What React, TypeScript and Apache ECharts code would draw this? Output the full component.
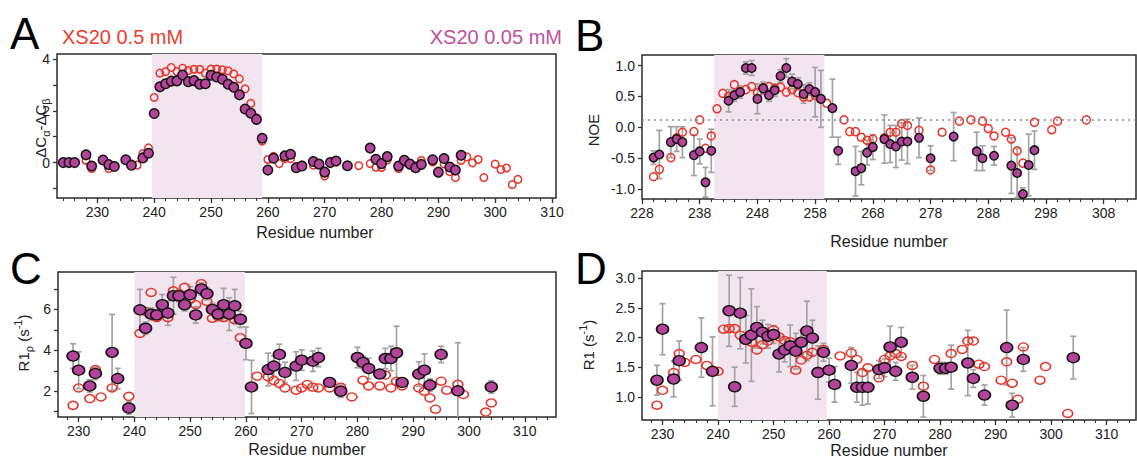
import React, { useEffect, useRef } from 'react';
import * as echarts from 'echarts';

// ---------- Panel A: ΔCα-ΔCβ ----------
const A_FILL_RES = [224,225,226,228,229,231,232,233,235,236,238,239,240,241,242,243,244,245,246,247,248,249,250,251,252,253,254,255,256,257,258,259,260,261,263,264,265,266,268,269,270,271,272,274,278,279,280,281,283,284,285,286,287,289,290,291,292,293,294];
const A_FILL_VAL = [0,0,0,0.3,-0.13,0.1,-0.08,-0.15,0.11,-0.1,0.18,0.36,1.9,2.93,3.05,3.15,3.16,3.39,3.13,3.17,3.03,3.05,3.38,3.31,3.22,3.03,2.91,2.62,2.07,1.91,1.67,0.94,-0.29,0.17,0.26,0.32,-0.2,-0.13,0.04,-0.06,-0.37,0,0.06,-0.12,0.56,0.13,-0.04,0.23,-0.13,0.09,-0.06,-0.2,-0.07,0.11,-0.37,0.16,-0.17,-0.29,0.28];
const A_RED_RES = [224,225,226,228,229,231,232,233,237,238,239,240,241,242,243,244,245,246,247,248,249,250,251,252,253,254,255,256,257,258,259,260,261,262,263,264,265,266,268,269,270,271,272,274,276,278,279,280,281,283,284,285,286,287,289,290,291,292,293,294,295,296,297,298,300,301,302,303,304];
const A_RED_VAL = [0,0,0,0.09,-0.23,0.08,-0.23,-0.15,-0.1,0.35,0.57,2.52,3.46,3.52,3.68,3.52,3.65,3.56,3.61,3.61,3.46,3.62,3.62,3.59,3.55,3.43,3.24,2.85,2.29,1.73,0.83,0.12,0.24,-0.04,0.15,0.15,-0.15,-0.1,-0.1,-0.05,-0.52,0,0.02,-0.12,-0.12,-0.04,-0.18,-0.19,0.1,-0.23,0.02,-0.03,-0.12,0.08,0.02,-0.4,-0.05,-0.35,-0.58,0.08,0.22,-0.01,0.12,-0.58,-0.06,-0.27,-0.21,-0.85,-0.65];

// ---------- Panel B: NOE ----------
const B_FILL_RES = [230,231,233,234,235,237,238,239,240,243,244,245,246,247,248,249,250,251,252,253,254,255,256,257,258,259,261,262,265,266,267,268,270,271,272,273,274,276,278,282,286,287,289,292,293,294,295,296];
const B_FILL_VAL = [-0.49,-0.44,-0.24,-0.19,-0.24,-0.45,-0.39,-0.89,-0.38,0.43,0.52,0.57,0.96,0.96,0.46,0.63,0.52,0.6,0.83,0.96,0.74,0.7,0.54,0.62,0.57,0.46,0.31,-0.38,-0.71,-0.66,-0.41,-0.32,-0.19,-0.27,-0.31,-0.23,-0.23,-0.17,-0.5,-0.15,-0.39,-0.5,-0.46,-0.62,-0.74,-1.08,-0.61,-0.37];
const B_FILL_ERR = [0.11,0.39,0.25,0.2,0.25,0.33,0.2,0.24,0.35,0.18,0.1,0.1,0.1,0.12,0.24,0.1,0.1,0.1,0.1,0.15,0.12,0.1,0.15,0.1,0.4,0.46,0.47,0.22,0.4,0.27,0.2,0.2,0.39,0.3,0.34,0.3,0.36,0.32,0.2,0.39,0.31,0.2,0.15,0.45,0.4,0.1,0.5,0.31];
const B_RED_RES = [230,231,233,234,235,237,238,239,240,241,242,243,244,245,246,247,248,249,250,251,252,253,254,255,256,257,258,259,260,263,264,265,266,267,268,270,271,272,273,274,276,278,280,283,285,287,288,289,291,292,293,294,296,299,300,305];
const B_RED_VAL = [-0.8,-0.68,-0.49,-0.17,-0.08,-0.07,0.12,-0.34,-0.14,0.3,0.55,0.5,0.69,0.57,0.61,0.66,0.56,0.64,0.66,0.63,0.65,0.57,0.61,0.56,0.49,0.49,0.52,0.46,0.39,0.12,-0.07,-0.07,-0.16,-0.21,-0.19,-0.17,-0.08,-0.08,0.06,0.03,-0.05,-0.69,-0.08,0.1,0.12,0.1,-0.02,-0.14,-0.08,-0.19,-0.38,-0.58,0.08,-0.04,0.1,0.12];
const B_NOE_REF = 0.12;

// ---------- Panel C: R1rho ----------
const C_FILL_RES = [229,230,232,233,236,237,239,241,242,243,244,245,246,247,248,249,250,251,252,253,254,255,256,257,258,259,260,261,264,265,266,267,269,270,272,273,275,277,280,281,282,284,285,286,287,288,291,292,293,295,298,304];
const C_FILL_VAL = [3.72,3.03,2.26,2.87,3.9,2.62,1.18,5.98,5.08,5.77,5.73,6.23,5.82,6.67,6.67,6.23,6.72,5.73,7.0,6.77,6.0,5.77,6.23,5.77,6.18,5.52,4.34,2.21,3.06,3.23,3.8,2.92,3.23,3.52,3.47,3.65,2.43,2.0,3.65,3.41,3.11,2.84,3.6,3.6,3.88,2.43,2.84,3.03,2.3,3.8,2.02,2.21];
const C_FILL_ERR = [0.6,0.9,0.3,0.3,1.85,0.5,0.3,1.0,0.3,0.3,0.25,0.5,0.6,0.9,0.3,0.3,0.4,0.4,0.3,0.3,0.3,0.3,0.8,0.8,0.8,0.4,0.8,1.3,0.8,0.5,0.5,0.5,0.7,0.5,0.5,0.45,0.2,0.3,0.5,0.3,0.5,0.2,0.5,0.6,1.3,0.2,0.6,0.8,0.3,0.4,2.35,0.3];
const C_RED_RES = [229,230,232,233,234,236,239,241,242,243,244,245,246,247,248,249,250,251,252,253,254,255,256,257,258,259,262,264,265,266,267,269,270,271,272,273,275,277,279,281,282,284,285,286,287,288,291,292,293,294,295,296,298,299,303,304];
const C_RED_VAL = [1.31,2.16,1.64,3.06,1.72,2.16,1.75,4.83,5.9,6.83,5.6,6.0,5.6,6.91,6.6,7.08,6.5,6.23,7.26,6.39,5.57,5.65,5.6,5.7,5.49,4.62,2.74,2.7,2.52,2.38,2.16,2.05,2.16,2.33,2.2,2.16,2.16,2.2,1.72,2.54,2.26,2.26,2.79,2.16,2.49,2.26,2.16,2.0,1.67,1.12,2.49,2.05,2.34,1.84,0.98,1.43];

// ---------- Panel D: R1 ----------
const D_FILL_RES = [229,230,232,233,237,239,242,243,244,245,246,247,248,249,250,251,252,253,254,255,256,257,258,259,260,261,264,265,266,267,269,270,271,272,273,275,277,280,281,282,285,286,288,292,293,295,304];
const D_FILL_VAL = [1.28,2.14,1.3,1.61,1.83,1.43,2.45,1.17,2.41,1.97,2.04,2.17,2.09,2.02,2.05,1.72,1.79,1.86,1.77,1.92,2.11,1.99,1.41,1.75,1.45,1.21,1.53,1.16,1.16,1.16,1.46,1.49,1.84,1.43,1.92,1.33,1.01,1.48,1.48,1.5,1.57,1.31,1.03,1.83,0.86,1.63,1.66];
const D_FILL_ERR = [0.25,0.43,0.3,0.33,0.5,0.58,0.6,0.33,0.6,0.4,0.78,0.35,0.2,0.2,0.15,0.3,0.2,0.35,0.3,0.2,0.5,0.3,0.45,0.15,0.2,0.3,0.3,0.25,0.3,0.28,0.15,0.15,0.35,0.15,0.25,0.2,0.35,0.1,0.1,0.37,0.55,0.15,0.17,0.63,0.2,0.2,0.36];
const D_RED_RES = [229,230,232,233,234,236,238,240,241,242,243,244,245,246,247,248,249,250,251,252,253,254,255,256,257,258,259,262,264,265,266,267,269,270,271,272,273,275,277,279,282,284,285,286,287,288,291,292,293,294,295,298,299,303];
const D_RED_VAL = [0.86,1.11,1.41,1.73,1.58,1.63,1.53,1.43,2.14,2.15,2.15,2.04,1.95,1.92,1.79,1.88,1.94,2.13,2.01,1.95,1.93,1.45,1.62,1.7,1.75,1.43,1.8,1.69,1.74,1.63,1.41,1.49,1.32,1.63,1.69,1.73,1.68,1.53,1.18,1.63,1.73,1.8,1.94,1.94,1.55,1.51,1.28,1.59,1.23,0.96,1.84,1.28,1.51,0.72];

// ---------- tick labels ----------
const A_XLABELS = [230,240,250,260,270,280,290,300,310];
const B_XLABELS = [228,238,248,258,268,278,288,298,308];
const C_XLABELS = [230,240,250,260,270,280,290,300,310];
const D_XLABELS = [230,240,250,260,270,280,290,300,310];
const A_YLABELS = [0,2,4];
const A_YTICKS = [-1,0,1,2,3,4];
const B_YLABELS = [-1.0,-0.5,0.0,0.5,1.0];
const C_YLABELS = [2,4,6];
const C_YTICKS = [1,2,3,4,5,6,7];
const D_YLABELS = [1.0,1.5,2.0,2.5,3.0];

// ---------- shaded (helical) regions ----------
const A_HELIX = [239.6, 259.0];
const B_HELIX = [240.5, 259.6];
const C_HELIX = [240.0, 259.8];
const D_HELIX = [240.0, 259.6];

const RED = '#e8352b';
const MAG = '#b4449a';
const SHADE = '#f3e5f0';
const FONT = '"Liberation Sans", Arial, sans-serif';

const evens = (a: number, b: number) => {
  const out: number[] = [];
  for (let v = a; v <= b; v += 2) out.push(v);
  return out;
};
const pairs = (r: number[], v: number[]) => r.map((x, i) => [x, v[i]]);
const bars = (r: number[], v: number[], e: number[]) => r.map((x, i) => [x, v[i] - e[i], v[i] + e[i]]);

const errRender = (params: any, api: any) => {
  const x = api.value(0);
  const p1 = api.coord([x, api.value(2)]);
  const p2 = api.coord([x, api.value(1)]);
  const w = 3;
  const st = { stroke: '#a3a3a3', lineWidth: 1.7 };
  return {
    type: 'group',
    children: [
      { type: 'line', shape: { x1: p1[0], y1: p1[1], x2: p2[0], y2: p2[1] }, style: st },
      { type: 'line', shape: { x1: p1[0] - w, y1: p1[1], x2: p1[0] + w, y2: p1[1] }, style: st },
      { type: 'line', shape: { x1: p2[0] - w, y1: p2[1], x2: p2[0] + w, y2: p2[1] }, style: st },
    ],
  };
};

interface PanelCfg {
  grid: { left: number; top: number; width: number; height: number };
  xr: [number, number];
  yr: [number, number];
  xLabels: number[];
  xMinor: number[];
  yLabels: number[];
  yTicks: number[];
  yFmt: (v: number) => string;
}

const PANELS: PanelCfg[] = [
  { grid: { left: 57, top: 54, width: 499, height: 144 }, xr: [222.9, 310.7], yr: [-1.37, 4.2], xLabels: A_XLABELS, xMinor: evens(224, 310), yLabels: A_YLABELS, yTicks: A_YTICKS, yFmt: (v) => String(v) },
  { grid: { left: 642, top: 55, width: 494, height: 144 }, xr: [228, 313.6], yr: [-1.16, 1.17], xLabels: B_XLABELS, xMinor: evens(228, 312), yLabels: B_YLABELS, yTicks: B_YLABELS, yFmt: (v) => v.toFixed(1) },
  { grid: { left: 58, top: 272, width: 498, height: 145 }, xr: [226.3, 315.6], yr: [0.74, 7.83], xLabels: C_XLABELS, xMinor: evens(228, 314), yLabels: C_YLABELS, yTicks: C_YTICKS, yFmt: (v) => String(v) },
  { grid: { left: 642, top: 271, width: 494, height: 149 }, xr: [226.3, 315.3], yr: [0.61, 3.12], xLabels: D_XLABELS, xMinor: evens(228, 314), yLabels: D_YLABELS, yTicks: D_YLABELS, yFmt: (v) => v.toFixed(1) },
];

export default function App() {
  const ref = useRef<HTMLDivElement>(null);
  useEffect(() => {
    if (!ref.current) return;
    const chart = echarts.init(ref.current, undefined, { renderer: 'svg' });

    const grid = PANELS.map((p) => ({ ...p.grid, show: true, borderColor: '#2b2b2b', borderWidth: 1.5, backgroundColor: 'transparent', containLabel: false }));
    const xAxis: any[] = [];
    const yAxis: any[] = [];
    PANELS.forEach((p, i) => {
      xAxis.push({
        type: 'value', gridIndex: i, min: p.xr[0], max: p.xr[1], position: 'bottom',
        axisLine: { show: false, onZero: false }, splitLine: { show: false },
        axisTick: { show: true, length: 5, customValues: p.xLabels, lineStyle: { color: '#333', width: 1.3 } },
        axisLabel: { customValues: p.xLabels, margin: 7, fontSize: 14, color: '#222', fontFamily: FONT },
      });
      xAxis.push({
        type: 'value', gridIndex: i, min: p.xr[0], max: p.xr[1], position: 'bottom',
        axisLine: { show: false, onZero: false }, splitLine: { show: false },
        axisLabel: { show: false, customValues: p.xMinor },
        axisTick: { show: true, length: 3, customValues: p.xMinor, lineStyle: { color: '#333', width: 1.1 } },
      });
      yAxis.push({
        type: 'value', gridIndex: i, min: p.yr[0], max: p.yr[1],
        axisLine: { show: false, onZero: false }, splitLine: { show: false },
        axisTick: { show: true, length: 4, customValues: p.yTicks, lineStyle: { color: '#333', width: 1.3 } },
        axisLabel: { customValues: p.yLabels, formatter: p.yFmt, margin: 7, fontSize: 14, color: '#222', fontFamily: FONT },
      });
    });

    const helix = [A_HELIX, B_HELIX, C_HELIX, D_HELIX];
    const series: any[] = [];
    helix.forEach((h, i) => {
      series.push({
        type: 'scatter', xAxisIndex: i * 2, yAxisIndex: i, data: [], z: 1, silent: true,
        markArea: { silent: true, itemStyle: { color: SHADE }, data: [[{ xAxis: h[0] }, { xAxis: h[1] }]] },
        markLine: i === 1 ? {
          silent: true, symbol: ['none', 'none'], label: { show: false },
          lineStyle: { color: '#8c8c8c', type: [2, 4], width: 1.6 },
          data: [{ yAxis: B_NOE_REF }],
        } : undefined,
      });
    });

    const errs = [null, bars(B_FILL_RES, B_FILL_VAL, B_FILL_ERR), bars(C_FILL_RES, C_FILL_VAL, C_FILL_ERR), bars(D_FILL_RES, D_FILL_VAL, D_FILL_ERR)];
    const reds = [pairs(A_RED_RES, A_RED_VAL), pairs(B_RED_RES, B_RED_VAL), pairs(C_RED_RES, C_RED_VAL), pairs(D_RED_RES, D_RED_VAL)];
    const fills = [pairs(A_FILL_RES, A_FILL_VAL), pairs(B_FILL_RES, B_FILL_VAL), pairs(C_FILL_RES, C_FILL_VAL), pairs(D_FILL_RES, D_FILL_VAL)];
    const fillSize: any[] = [[9.5, 9.5], [8.5, 8.5], [12, 10], [12, 10]];
    const redSize: any[] = [[7.5, 7.5], [8, 8], [10, 8], [10, 8]];

    for (let i = 0; i < 4; i++) {
      if (errs[i]) {
        series.push({
          type: 'custom', xAxisIndex: i * 2, yAxisIndex: i, data: errs[i], renderItem: errRender, clip: true, z: 2, silent: true,
          encode: { x: 0, y: [1, 2] },
        });
      }
      series.push({
        type: 'scatter', name: 'XS20 0.5 mM', xAxisIndex: i * 2, yAxisIndex: i, data: reds[i], symbol: 'circle', symbolSize: redSize[i], z: 3, silent: true,
        itemStyle: { color: 'rgba(255,255,255,0)', borderColor: RED, borderWidth: 1.5, opacity: 1 },
      });
      series.push({
        type: 'scatter', name: 'XS20 0.05 mM', xAxisIndex: i * 2, yAxisIndex: i, data: fills[i], symbol: 'circle', symbolSize: fillSize[i], z: 4, silent: true,
        itemStyle: { color: MAG, borderColor: '#141414', borderWidth: 1.5, opacity: 1 },
      });
    }

    const letter = (t: string, x: number, y: number) => ({
      type: 'text', x, y, style: { text: t, fontSize: 44, fontFamily: FONT, fill: '#000', align: 'left', verticalAlign: 'middle' },
    });
    const xTitle = (x: number, y: number) => ({
      type: 'text', x, y, style: { text: 'Residue number', fontSize: 16, fontFamily: FONT, fill: '#222', align: 'center', verticalAlign: 'middle' },
    });
    const yTitle = (text: string, x: number, y: number) => ({
      type: 'text', x, y, rotation: Math.PI / 2,
      style: {
        text, fontFamily: FONT, fill: '#222', align: 'center', verticalAlign: 'middle', fontSize: 15,
        rich: {
          n: { fontSize: 15, fontFamily: FONT, fill: '#222', lineHeight: 22, verticalAlign: 'middle' },
          s: { fontSize: 11, fontFamily: FONT, fill: '#222', lineHeight: 12, verticalAlign: 'bottom' },
          p: { fontSize: 11, fontFamily: FONT, fill: '#222', lineHeight: 12, verticalAlign: 'top' },
        },
      },
    });

    const graphic = [
      letter('A', 10, 33),
      letter('B', 575, 35),
      letter('C', 10, 268),
      letter('D', 575, 268),
      { type: 'text', x: 62, y: 37, style: { text: 'XS20 0.5 mM', fontSize: 20, fontFamily: FONT, fill: '#e8412e', align: 'left', verticalAlign: 'middle' } },
      { type: 'text', x: 562, y: 37, style: { text: 'XS20 0.05 mM', fontSize: 20, fontFamily: FONT, fill: '#c0509e', align: 'right', verticalAlign: 'middle' } },
      xTitle(315, 232),
      xTitle(889, 241),
      xTitle(307, 449),
      xTitle(889, 450),
      yTitle('{n|ΔC}{s|α}{n|-ΔC}{s|β}', 40, 128),
      yTitle('{n|NOE}', 593, 130),
      yTitle('{n|R1}{s|ρ}{n| (s}{p|-1}{n|)}', 23, 343),
      yTitle('{n|R1 (s}{p|-1}{n|)}', 588, 345),
    ];

    chart.setOption({
      animation: false,
      backgroundColor: '#ffffff',
      grid, xAxis, yAxis, series, graphic,
    });
    return () => chart.dispose();
  }, []);
  return <div ref={ref} style={{ position: 'fixed', left: 0, top: 0, width: 1137, height: 461, background: '#fff' }} />;
}
